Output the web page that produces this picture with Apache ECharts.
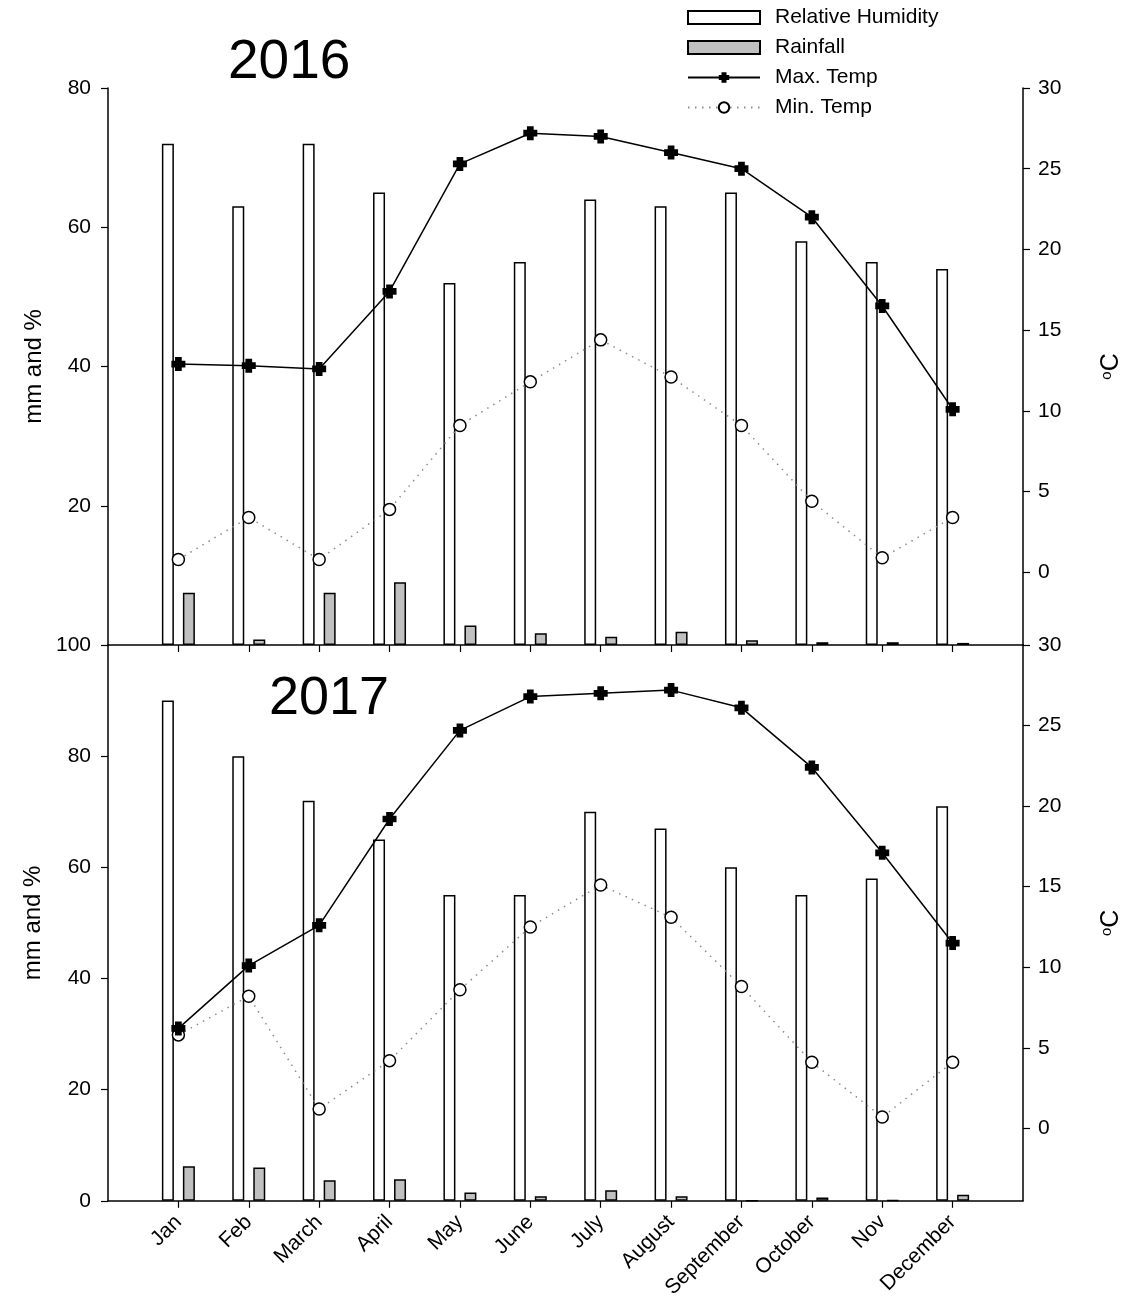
<!DOCTYPE html>
<html>
<head>
<meta charset="utf-8">
<script src="https://cdn.jsdelivr.net/npm/echarts@6/dist/echarts.min.js"></script>
<style>
html,body{margin:0;padding:0;background:#fff;}
#chart{width:1132px;height:1301px;}
</style>
</head>
<body>
<div id="chart"></div>
<script>
const months = ['Jan','Feb','March','April','May','June','July','August','September','October','Nov','December'];
const rh2016 = [72,63,72,65,52,55,64,63,65,58,55,54];
const rain2016 = [7.5,0.8,7.5,9,2.8,1.7,1.2,1.9,0.7,0.4,0.4,0.3];
const tmax2016 = [12.9,12.8,12.6,17.4,25.3,27.2,27.0,26.0,25.0,22.0,16.5,10.1];
const tmin2016 = [0.8,3.4,0.8,3.9,9.1,11.8,14.4,12.1,9.1,4.4,0.9,3.4];
const rh2017 = [90,80,72,65,55,55,70,67,60,55,58,71];
const rain2017 = [6.2,6.0,3.7,3.9,1.5,0.8,1.9,0.8,0,0.6,0.1,1.1];
const tmax2017 = [6.2,10.1,12.6,19.2,24.7,26.8,27.0,27.2,26.1,22.4,17.1,11.5];
const tmin2017 = [5.8,8.2,1.2,4.2,8.6,12.5,15.1,13.1,8.8,4.1,0.7,4.1];
const tempTicks = [0,5,10,15,20,25,30];
const years = ['2016','2017'];

const FONT = 'Liberation Sans, Arial, sans-serif';
const pad = a => [null, ...a, null];
const cats = ['', ...months, ''];
const plusPath = 'path://M2.6,0H7.4V2.6H10V7.4H7.4V10H2.6V7.4H0V2.6H2.6Z';

function xAxisDef(gi, showLabels) {
  return {
    type: 'category', gridIndex: gi, data: cats, boundaryGap: false,
    axisLine: {show: true, lineStyle: {color: '#000', width: 1.5}},
    axisTick: {show: true, length: 7, lineStyle: {color: '#000', width: 1.2},
      interval: (i) => i > 0 && i < cats.length - 1},
    axisLabel: {show: showLabels, interval: 0, rotate: 45, fontSize: 21, color: '#000',
      fontFamily: FONT, margin: 18},
    splitLine: {show: false}
  };
}
function leftAxis(gi, max, showMin) {
  return {
    type: 'value', gridIndex: gi, position: 'left', min: 0, max: max, interval: 20,
    name: 'mm and %', nameLocation: 'middle', nameRotate: 90, nameGap: 62,
    nameTextStyle: {fontSize: 24, color: '#000', fontFamily: FONT},
    axisLine: {show: true, lineStyle: {color: '#000', width: 1.5}},
    axisTick: {show: true, length: 7, lineStyle: {color: '#000', width: 1.2}},
    axisLabel: {fontSize: 21, color: '#000', fontFamily: FONT, margin: 17, showMinLabel: showMin},
    splitLine: {show: false}
  };
}
function rightAxis(gi) {
  return {
    type: 'value', gridIndex: gi, position: 'right', min: -4.5, max: 30,
    name: '{s|o}C', nameLocation: 'middle', nameRotate: 90, nameGap: 76,
    nameTextStyle: {fontSize: 25, color: '#000', fontFamily: FONT,
      rich: {s: {fontSize: 15, verticalAlign: 'top', color: '#000', fontFamily: FONT, padding: [0,0,9,0]}}},
    axisLine: {show: true, lineStyle: {color: '#000', width: 1.5}},
    axisTick: {show: true, length: 7, customValues: tempTicks, lineStyle: {color: '#000', width: 1.2}},
    axisLabel: {fontSize: 21, color: '#000', fontFamily: FONT, margin: 15, customValues: tempTicks},
    splitLine: {show: false}
  };
}
function seriesFor(gi, rh, rain, tmax, tmin) {
  return [
    {name: 'Relative Humidity', type: 'bar', xAxisIndex: gi, yAxisIndex: gi * 2,
      data: pad(rh), barWidth: 12, barGap: '75%',
      itemStyle: {color: '#fff', borderColor: '#000', borderWidth: 1.5}, z: 2},
    {name: 'Rainfall', type: 'bar', xAxisIndex: gi, yAxisIndex: gi * 2,
      data: pad(rain), barWidth: 12, barGap: '75%',
      itemStyle: {color: '#c0c0c0', borderColor: '#000', borderWidth: 1.5}, z: 2},
    {name: 'Max. Temp', type: 'line', xAxisIndex: gi, yAxisIndex: gi * 2 + 1,
      data: pad(tmax), symbol: plusPath, symbolSize: 14,
      lineStyle: {color: '#000', width: 1.5}, itemStyle: {color: '#000'}, z: 4},
    {name: 'Min. Temp', type: 'line', xAxisIndex: gi, yAxisIndex: gi * 2 + 1,
      data: pad(tmin), symbol: 'circle', symbolSize: 12,
      lineStyle: {color: '#8c8c8c', width: 1.5, type: [1.5, 5.5]},
      itemStyle: {color: '#fff', borderColor: '#000', borderWidth: 1.5}, z: 3}
  ];
}

const chart = echarts.init(document.getElementById('chart'), null, {renderer: 'canvas'});
chart.setOption({
  backgroundColor: '#fff',
  animation: false,
  title: [
    {text: years[0], left: 223, top: 30, textStyle: {fontSize: 55, fontWeight: 'normal', color: '#000', fontFamily: FONT}},
    {text: years[1], left: 264, top: 667, textStyle: {fontSize: 54, fontWeight: 'normal', color: '#000', fontFamily: FONT}}
  ],
  legend: {
    orient: 'vertical', left: 682, top: 2, itemWidth: 72, itemHeight: 13, itemGap: 9,
    data: [
      {name: 'Relative Humidity', icon: 'rect'},
      {name: 'Rainfall', icon: 'rect'},
      {name: 'Max. Temp'},
      {name: 'Min. Temp'}
    ],
    textStyle: {fontSize: 21, color: '#000', fontFamily: FONT, padding: [0, 0, 0, 10]}
  },
  grid: [
    {left: 108, width: 918, top: 88, height: 557},
    {left: 108, width: 918, top: 645, height: 556}
  ],
  xAxis: [xAxisDef(0, false), xAxisDef(1, true)],
  yAxis: [leftAxis(0, 80, false), rightAxis(0), leftAxis(1, 100, true), rightAxis(1)],
  series: [
    ...seriesFor(0, rh2016, rain2016, tmax2016, tmin2016),
    ...seriesFor(1, rh2017, rain2017, tmax2017, tmin2017)
  ]
});
</script>
</body>
</html>
